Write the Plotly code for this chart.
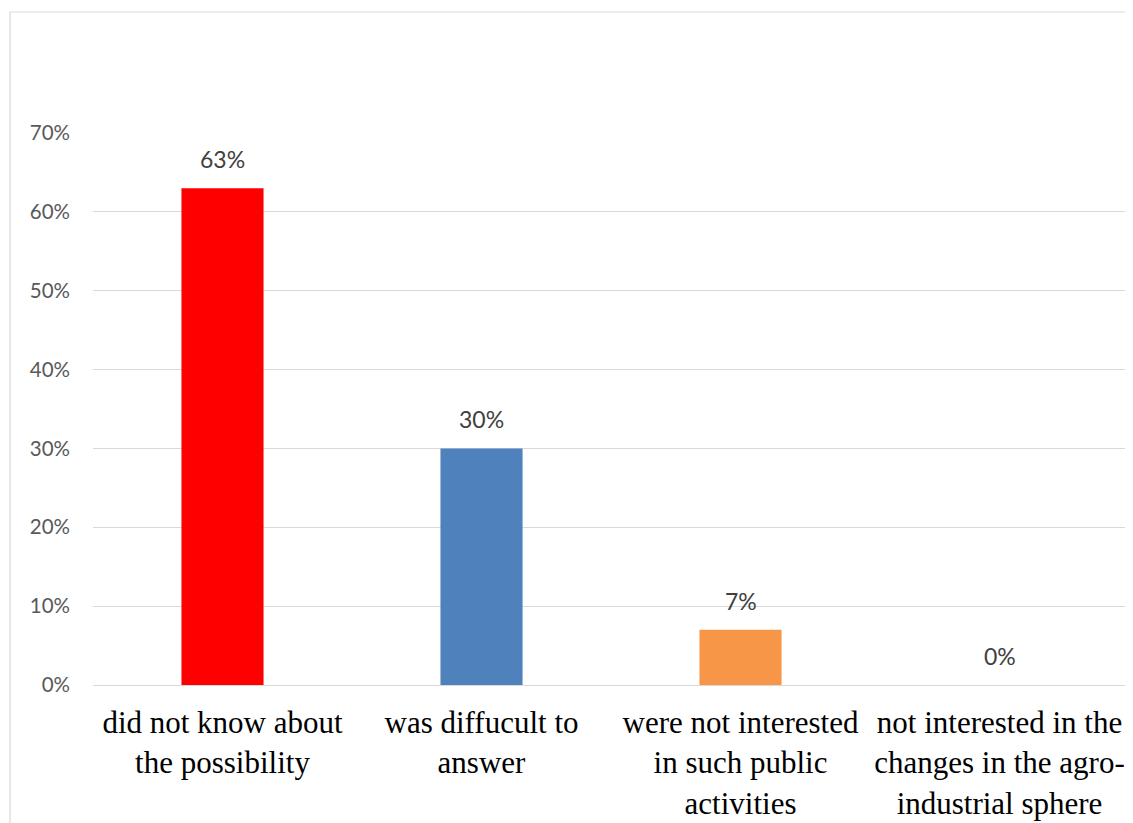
import plotly.graph_objects as go

categories = [
    "did not know about<br>the possibility",
    "was diffucult to<br>answer",
    "were not interested<br>in such public<br>activities",
    "not interested in the<br>changes in the agro-<br>industrial sphere",
]
values = [0.63, 0.30, 0.07, 0.0]
value_labels = ["63%", "30%", "7%", "0%"]
colors = ["#FF0000", "#4F81BD", "#F79646", "#9BBB59"]
tick_vals = [0, 0.1, 0.2, 0.3, 0.4, 0.5, 0.6, 0.7]
tick_text = ["0%", "10%", "20%", "30%", "40%", "50%", "60%", "70%"]

x_idx = list(range(len(categories)))

fig = go.Figure()
fig.add_trace(go.Bar(
    x=x_idx,
    y=values,
    width=0.317,
    marker=dict(color=colors, line=dict(width=0)),
    hoverinfo="skip",
))

for xi, v, lab in zip(x_idx, values, value_labels):
    fig.add_annotation(
        x=xi, y=v, text=lab, showarrow=False,
        xref="x", yref="y", yanchor="bottom", yshift=13,
        font=dict(family="Lato", size=23, color="#404040"),
    )

fig.add_shape(
    type="rect", xref="paper", yref="paper",
    x0=-0.0801, x1=1.02, y0=-0.4, y1=1.2192,
    line=dict(color="#D9D9D9", width=1.2), fillcolor="rgba(0,0,0,0)",
    layer="below",
)

fig.update_layout(
    width=1125, height=815,
    margin=dict(l=85, r=4, t=125, b=138, autoexpand=False),
    paper_bgcolor="white", plot_bgcolor="white",
    showlegend=False,
    xaxis=dict(
        tickmode="array", tickvals=x_idx, ticktext=categories,
        range=[-0.5, 3.5], showgrid=False, zeroline=False, showline=False,
        ticks="", tickangle=0, ticklabelstandoff=16,
        tickfont=dict(family="Liberation Serif", size=31, color="#000000"),
    ),
    yaxis=dict(
        range=[0, 0.7], tickmode="array", tickvals=tick_vals, ticktext=tick_text,
        showgrid=True, gridcolor="#D9D9D9", gridwidth=1.2,
        zeroline=True, zerolinecolor="#D9D9D9", zerolinewidth=1.2,
        showline=False, ticks="", ticklabelstandoff=22,
        tickfont=dict(family="Lato", size=20.5, color="#595959"),
    ),
)

fig.write_html("out.html")
